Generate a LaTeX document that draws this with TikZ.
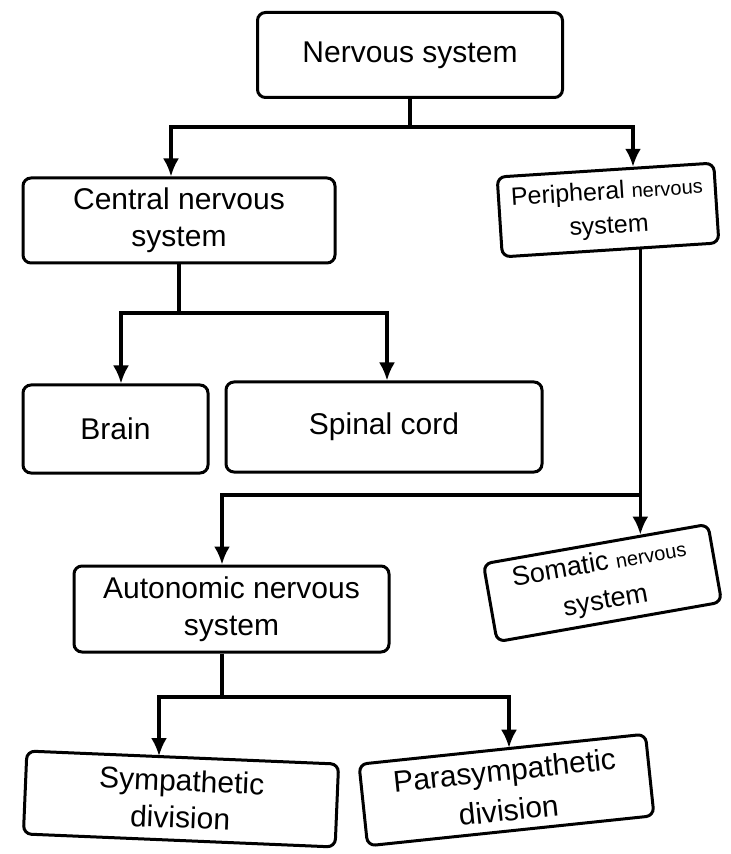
\documentclass[tikz,border=0pt]{standalone}
\usepackage{fontspec}
\setmainfont{Liberation Sans}
\usetikzlibrary{arrows.meta,calc}
\tikzset{
  box/.style={draw, line width=1.5pt, rounded corners=4pt, align=center, inner sep=2pt, font=\fontsize{15}{18.5}\selectfont},
  conn/.style={line width=1.6pt},
  arr/.style={conn, -{Latex[length=9pt,width=8pt]}}
}
\newcommand{\shrunk}[1]{{\fontsize{10}{12}\selectfont #1}}

\begin{document}
\begin{tikzpicture}[x=0.5pt,y=-0.5pt]
\useasboundingbox (0,0) rectangle (730,854);
% boxes
\node[box, minimum width=152.5pt, minimum height=42.5pt] (ns) at (410,55) {Nervous system};
\node[box, minimum width=156pt, minimum height=42.5pt] (cns) at (179,220.5) {Central nervous\\system};
\node[box, minimum width=108.5pt, minimum height=40pt, rotate=3.7, font=\fontsize{12.5}{17}\selectfont] (pns) at (608,210) {Peripheral \shrunk{nervous}\\system};
\node[box, minimum width=92.5pt, minimum height=44pt] (brain) at (115.5,429) {Brain};
\node[box, minimum width=158pt, minimum height=45pt] (sc) at (384,427) {Spinal cord};
\node[box, minimum width=157.5pt, minimum height=43pt] (ans) at (231.5,609) {Autonomic nervous\\system};
\node[box, minimum width=114pt, minimum height=39.5pt, rotate=10, font=\fontsize{13.5}{19}\selectfont] (sns) at (602.5,583) {Somatic \shrunk{nervous}\\system};
\node[box, minimum width=156pt, minimum height=41.5pt, rotate=-2.4] (sym) at (181,799) {Sympathetic\\division};
\node[box, minimum width=144pt, minimum height=41pt, rotate=6, font=\fontsize{15}{20}\selectfont] (psym) at (506.5,790) {Parasympathetic\\division};
% nervous system
\coordinate (j1) at (171,127);
\coordinate (j2) at (633,127);
\coordinate (pt) at ($(pns.north west)!0.627!(pns.north east)$);
\draw[conn] (ns.south) -- (ns.south |- j1);
\draw[arr] (ns.south |- j1) -- (j1) -- (j1 |- cns.north);
\draw[arr] (ns.south |- j1) -- (j2) -- (j2 |- pt);
% central
\coordinate (b1) at (121,313);
\coordinate (b2) at (387,313);
\draw[conn] (cns.south) -- (cns.south |- b1);
\draw[arr] (cns.south |- b1) -- (b1) -- (b1 |- brain.north);
\draw[arr] (cns.south |- b1) -- (b2) -- (b2 |- sc.north);
% peripheral
\coordinate (p1) at ($(pns.south west)!0.635!(pns.south east)$);
\coordinate (p2) at ($(sns.north west)!0.7!(sns.north east)$);
\coordinate (a1) at (222,495);
\draw[arr] (p1) -- (p1 |- p2);
\draw[arr] (p1 |- a1) -- (a1) -- (a1 |- ans.north);
% autonomic
\coordinate (c1) at (159,697);
\coordinate (c2) at (509,697);
\draw[conn] (a1 |- ans.south) -- (a1 |- c1);
\draw[arr] (a1 |- c1) -- (c1) -- (c1 |- sym.north);
\draw[arr] (a1 |- c1) -- (c2) -- (c2 |- psym.north);
\end{tikzpicture}
\end{document}
